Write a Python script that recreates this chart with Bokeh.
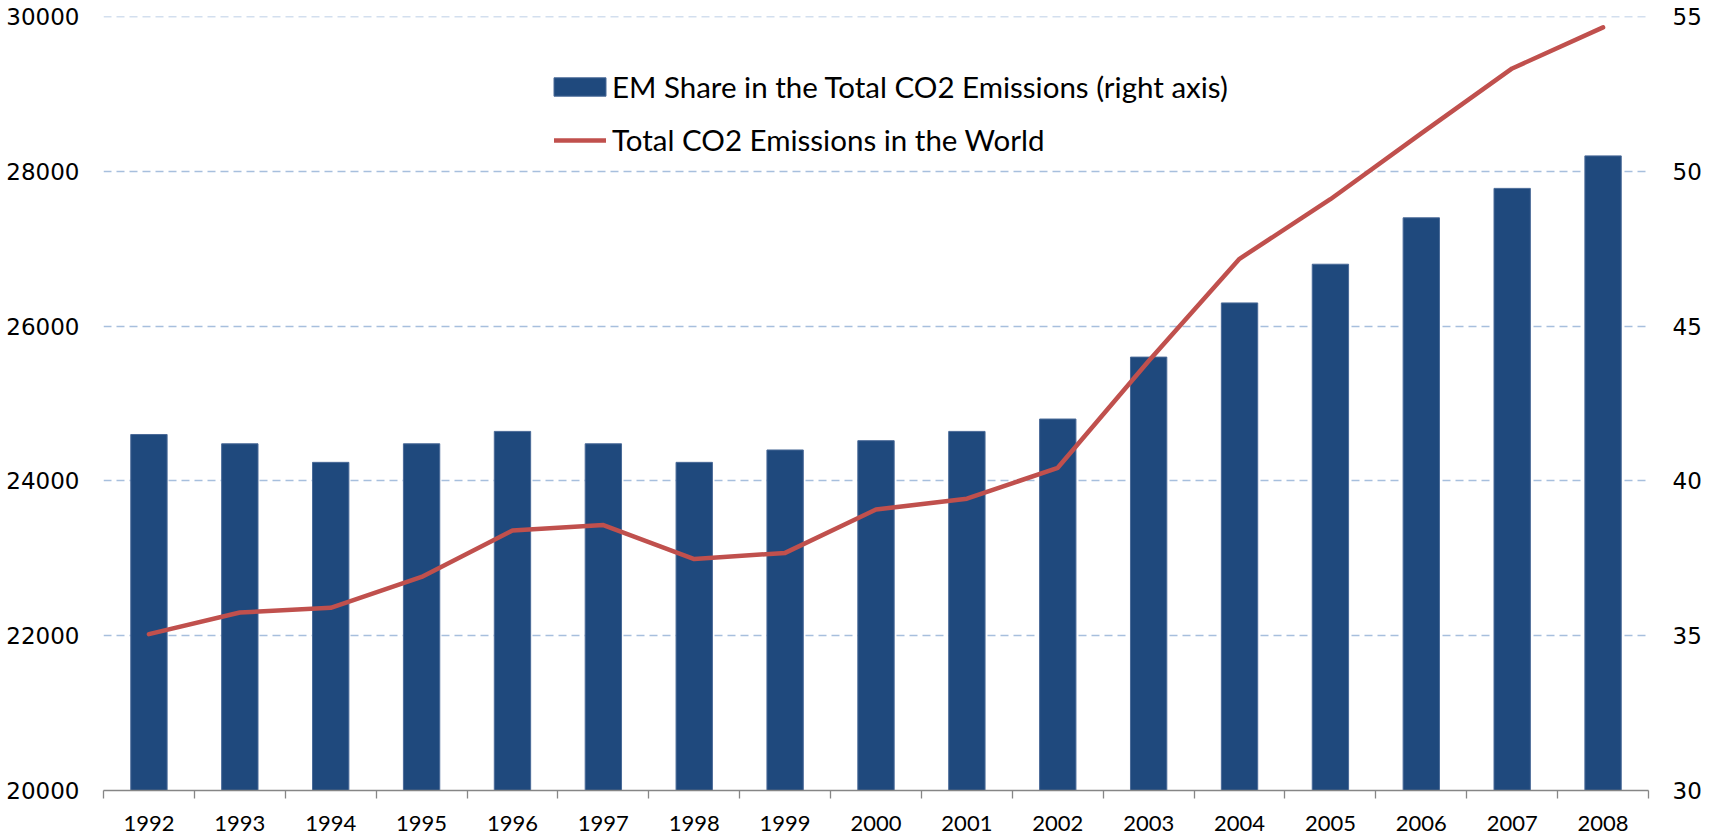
from bokeh.plotting import figure
from bokeh.models import (Range1d, LinearAxis, FixedTicker, Legend, LegendItem,
                          ColumnDataSource)
from bokeh.embed import file_html
from bokeh.resources import INLINE

years = ["1992", "1993", "1994", "1995", "1996", "1997", "1998", "1999", "2000",
         "2001", "2002", "2003", "2004", "2005", "2006", "2007", "2008"]
em_share = [41.5, 41.2, 40.6, 41.2, 41.6, 41.2, 40.6, 41.0, 41.3,
            41.6, 42.0, 44.0, 45.75, 47.0, 48.5, 49.45, 50.5]
total_co2 = [22020, 22300, 22360, 22760, 23360, 23430, 22990, 23070, 23630,
             23770, 24170, 25550, 26870, 27640, 28490, 29330, 29860]
left_ticks = [20000, 22000, 24000, 26000, 28000, 30000]
right_ticks = [30, 35, 40, 45, 50, 55]

idx = list(range(len(years)))
src = ColumnDataSource(dict(x=idx, share=em_share, co2=total_co2))

TXT = "Lato"
NUM = "DejaVu Sans"

# tiny headroom so that the top gridline (30000 / 55) is drawn
eps_l = 1.0
eps_r = eps_l * (right_ticks[-1] - right_ticks[0]) / (left_ticks[-1] - left_ticks[0])

W, H = 1715, 835
p = figure(width=W, height=H, output_backend="svg", toolbar_location=None,
           x_range=Range1d(-0.5, len(years) - 0.5),
           y_range=Range1d(left_ticks[0], left_ticks[-1] + eps_l),
           min_border_left=103, min_border_right=W - 1648, min_border_top=16,
           min_border_bottom=H - 790)
p.outline_line_color = None
p.background_fill_color = "white"
p.border_fill_color = "white"
p.extra_y_ranges = {"right": Range1d(right_ticks[0], right_ticks[-1] + eps_r)}

bars = p.vbar(x="x", top="share", bottom=right_ticks[0], width=0.4, source=src,
              y_range_name="right", fill_color="#1f497d", line_color="#4a6a98",
              line_width=1)
line = p.line(x="x", y="co2", source=src, line_color="#c0504d", line_width=4.5,
              line_join="round", line_cap="round")

# x axis
xa = p.xaxis[0]
xa.ticker = FixedTicker(ticks=idx, minor_ticks=[i - 0.5 for i in range(len(years) + 1)])
xa.major_label_overrides = {i: y for i, y in zip(idx, years)}
xa.major_tick_line_color = None
xa.major_tick_out = 0
xa.major_tick_in = 0
xa.minor_tick_line_color = "#868686"
xa.minor_tick_out = 8
xa.minor_tick_in = 0
xa.minor_tick_line_width = 1.3
xa.axis_line_color = "#868686"
xa.axis_line_width = 1.3
xa.major_label_text_font = TXT
xa.major_label_text_font_size = "22px"
xa.major_label_text_color = "black"
xa.major_label_standoff = 17

# left axis
ya = p.yaxis[0]
ya.ticker = FixedTicker(ticks=left_ticks)
ya.axis_line_color = None
ya.major_tick_line_color = None
ya.minor_tick_line_color = None
ya.major_tick_out = 0
ya.major_label_text_font = NUM
ya.major_label_text_font_size = "23px"
ya.major_label_text_color = "black"
ya.major_label_standoff = 24

# right axis
ra = LinearAxis(y_range_name="right", ticker=FixedTicker(ticks=right_ticks))
ra.axis_line_color = None
ra.major_tick_line_color = None
ra.minor_tick_line_color = None
ra.major_tick_out = 0
ra.major_label_text_font = NUM
ra.major_label_text_font_size = "23px"
ra.major_label_text_color = "black"
ra.major_label_standoff = 24
p.add_layout(ra, "right")

p.xgrid.visible = False
p.ygrid.grid_line_color = "#a7bfdd"
p.ygrid.grid_line_width = 1.5
p.ygrid.grid_line_dash = "8 5"


def style_legend(lg):
    lg.label_text_font = TXT
    lg.label_text_font_size = "29.5px"
    lg.label_text_color = "black"
    lg.label_height = 34
    lg.padding = 0
    lg.margin = 0
    lg.border_line_color = None
    lg.background_fill_alpha = 0


frame_h = 790 - 16
leg_bar = Legend(items=[LegendItem(label="EM Share in the Total CO2 Emissions (right axis)",
                                   renderers=[bars])],
                 location=(444, frame_h - 52 - 34 - 2))
style_legend(leg_bar)
leg_bar.glyph_width = 65
leg_bar.glyph_height = 23
leg_bar.label_standoff = 0

leg_line = Legend(items=[LegendItem(label="Total CO2 Emissions in the World",
                                    renderers=[line])],
                  location=(451, frame_h - 108 - 34 + 1))
style_legend(leg_line)
leg_line.glyph_width = 52
leg_line.glyph_height = 18
leg_line.label_standoff = 6

p.add_layout(leg_bar, "center")
p.add_layout(leg_line, "center")

open("out.html", "w").write(file_html(p, INLINE))
